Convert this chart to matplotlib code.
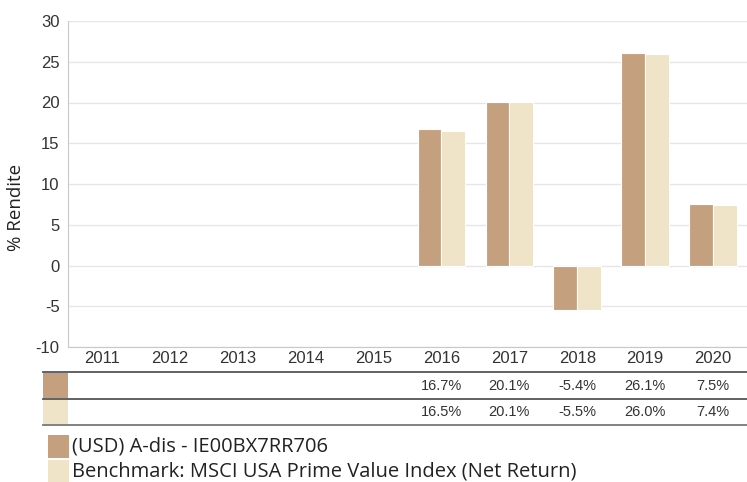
import matplotlib as mpl
import matplotlib.pyplot as plt
from matplotlib.transforms import blended_transform_factory
from matplotlib.patches import Rectangle
import numpy as np

mpl.rcParams["font.family"] = ["Liberation Sans", "DejaVu Sans"]

years = ["2011", "2012", "2013", "2014", "2015", "2016", "2017", "2018", "2019", "2020"]
fund = [None, None, None, None, None, 16.7, 20.1, -5.4, 26.1, 7.5]
bench = [None, None, None, None, None, 16.5, 20.1, -5.5, 26.0, 7.4]
series_names = ["(USD) A-dis - IE00BX7RR706",
                "Benchmark: MSCI USA Prime Value Index (Net Return)"]
colors = ["#c4a07f", "#efe3c8"]
yticks = [-10, -5, 0, 5, 10, 15, 20, 25, 30]

W, H = 747, 482
fig = plt.figure(figsize=(W / 100, H / 100), dpi=100)
ax = fig.add_axes([68 / W, 1 - 347 / H, (W - 68) / W, (347 - 21) / H])

x = np.arange(len(years))
bw = 0.35
for i, (vals, c) in enumerate(zip([fund, bench], colors)):
    xs = [xi for xi, v in zip(x, vals) if v is not None]
    vs = [v for v in vals if v is not None]
    ax.bar(np.array(xs) + (i - 0.5) * bw, vs, width=bw, color=c,
           edgecolor="white", linewidth=0.8, zorder=3)

ax.set_xlim(-0.5, len(years) - 0.5)
ax.set_ylim(-10, 30)
ax.set_yticks(yticks)
ax.set_yticklabels([str(t) for t in yticks])
ax.set_xticks(x)
ax.set_xticklabels(years)
ax.tick_params(axis="both", length=0, labelsize=12, colors="#333333")
ax.tick_params(axis="y", pad=6)
ax.tick_params(axis="x", pad=3)
ax.grid(axis="y", color="#e6e6e6", linewidth=1, zorder=0)
for s in ["top", "right"]:
    ax.spines[s].set_visible(False)
ax.spines["left"].set_color("#c8c8c8")
ax.spines["bottom"].set_color("#c8c8c8")
ax.set_ylabel("% Rendite", fontsize=13.5, family=["Open Sans", "DejaVu Sans"],
              color="#222222")
ax.yaxis.set_label_coords(-43 / (W - 68), (347 - 207) / (347 - 21))

# table under the chart
tr = blended_transform_factory(ax.transData, fig.transFigure)
def fy(py):
    return 1 - py / H

for py, lc in [(372, "#555555"), (399, "#555555"), (425, "#777777")]:
    fig.add_artist(plt.Line2D([43 / W, 1], [fy(py), fy(py)], color=lc, linewidth=1.3))
rows = [(fund, 373, 398), (bench, 400, 424)]
for (vals, top, bot), c in zip(rows, colors):
    fig.add_artist(Rectangle((43 / W, fy(bot)), 25 / W, (bot - top) / H,
                             transform=fig.transFigure, color=c, linewidth=0))
    for xi, v in zip(x, vals):
        if v is not None:
            ax.text(xi, fy((top + bot) / 2), f"{v:.1f}%", transform=tr,
                    ha="center", va="center", fontsize=10.5, color="#333333",
                    clip_on=False)

# legend
for (name, c, top, bot) in zip(series_names, colors, [435, 460], [458, 482]):
    fig.add_artist(Rectangle((48 / W, fy(bot)), 21 / W, (bot - top) / H,
                             transform=fig.transFigure, color=c, linewidth=0))
    fig.text(72 / W, fy((top + bot) / 2), name, ha="left", va="center", fontsize=14.5,
             family=["Open Sans", "DejaVu Sans"], color="#222222")

fig.savefig("out.png", dpi=100)
